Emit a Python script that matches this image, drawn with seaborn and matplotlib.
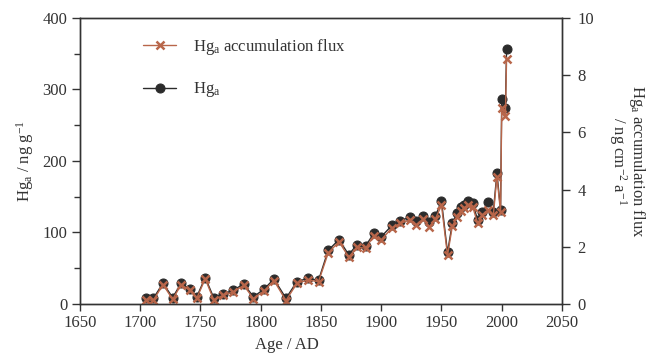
import numpy as np
import pandas as pd
import seaborn as sns
import matplotlib.pyplot as plt

sns.set_theme(style="white")
plt.rcParams['font.family'] = ['Liberation Serif', 'DejaVu Serif']
plt.rcParams['mathtext.fontset'] = 'custom'
plt.rcParams['mathtext.rm'] = 'Liberation Serif'
plt.rcParams['mathtext.it'] = 'Liberation Serif:italic'

# values
years = [1705, 1711, 1719, 1727, 1734, 1741, 1747, 1754, 1761, 1769,
         1777, 1786, 1794, 1803, 1811, 1821, 1830, 1839, 1848, 1856,
         1865, 1873, 1880, 1887, 1894, 1900, 1909, 1916, 1924, 1929,
         1935, 1940, 1945, 1950, 1955, 1959, 1963, 1966, 1969, 1972,
         1976, 1980, 1984, 1989, 1993, 1996, 1999, 2000, 2003, 2004]
hg = [9, 8, 29, 9, 29, 21, 10, 37, 9, 14,
      19, 28, 10, 21, 35, 8, 31, 36, 33, 75,
      90, 69, 83, 81, 99, 94, 110, 116, 122, 116,
      123, 114, 123, 144, 72, 113, 127, 135, 139, 144,
      141, 117, 129, 142, 129, 183, 132, 287, 274, 356]
flux = [0.15, 0.13, 0.68, 0.16, 0.68, 0.48, 0.20, 0.88, 0.15, 0.30,
        0.42, 0.65, 0.19, 0.46, 0.82, 0.12, 0.72, 0.84, 0.78, 1.78,
        2.18, 1.64, 1.98, 1.95, 2.38, 2.24, 2.66, 2.82, 2.94, 2.76,
        2.98, 2.70, 2.98, 3.45, 1.70, 2.72, 3.05, 3.25, 3.35, 3.45,
        3.38, 2.82, 3.10, 3.30, 3.10, 4.45, 3.20, 6.84, 6.58, 8.56]

df = pd.DataFrame({"year": years, "hg": hg, "flux": flux})

hg_color = "#2b2b2b"
flux_color = "#b8664a"
txt = "#333333"
fs = 12

fig = plt.figure(figsize=(6.49, 3.57), dpi=100)
ax = fig.add_axes([0.123, 0.1485, 0.743, 0.8015])
ax2 = ax.twinx()

sns.lineplot(data=df, x="year", y="hg", ax=ax, color=hg_color, marker="o",
             markersize=6.5, markeredgecolor=hg_color, linewidth=1.0,
             label="Hg$_\\mathrm{a}$", legend=False)
sns.lineplot(data=df, x="year", y="flux", ax=ax2, color=flux_color, marker="x",
             markersize=5.5, markeredgewidth=1.8, markeredgecolor=flux_color,
             linewidth=1.0, label="Hg$_\\mathrm{a}$ accumulation flux", legend=False)

ax.set_xlim(1650, 2050)
ax.set_ylim(0, 400)
ax2.set_ylim(0, 10)
ax.set_xticks(np.arange(1650, 2051, 50))
ax.set_yticks(np.arange(0, 401, 100))
ax.set_yticks(np.arange(50, 400, 100), minor=True)
ax2.set_yticks(np.arange(0, 11, 2))

for a in (ax, ax2):
    for s in a.spines.values():
        s.set_color(txt)
        s.set_linewidth(1.0)
ax.tick_params(axis="both", which="major", direction="out", length=6, width=1,
               color=txt, labelsize=fs, labelcolor=txt, pad=3)
ax.tick_params(axis="y", which="minor", direction="out", length=4, width=1,
               color=txt, left=True)
ax.tick_params(axis="x", bottom=True, length=5)
ax.tick_params(axis="y", left=True)
ax2.tick_params(axis="y", which="major", direction="out", length=6, width=1,
                color=txt, labelsize=fs, labelcolor=txt, right=True, pad=5)

ax.set_xlabel("Age / AD", fontsize=fs, color=txt, labelpad=8)
ax.xaxis.set_label_coords(0.43, -0.115)
ax.set_ylabel("Hg$_\\mathrm{a}$ / ng g$^\\mathrm{-1}$", fontsize=fs, color=txt, labelpad=5)
ax2.set_ylabel("Hg$_\\mathrm{a}$ accumulation flux\n/ ng cm$^\\mathrm{-2}$ a$^\\mathrm{-1}$",
               fontsize=fs, color=txt, rotation=270, labelpad=38, linespacing=0.85)

h1, l1 = ax.get_legend_handles_labels()
h2, l2 = ax2.get_legend_handles_labels()
ax2.legend(h2 + h1, l2 + l1, loc="upper left", bbox_to_anchor=(0.1, 0.985),
           frameon=False, fontsize=fs, labelspacing=1.4, handlelength=2.0,
           handletextpad=1.0, labelcolor=txt)

fig.savefig("out.png", dpi=100)
